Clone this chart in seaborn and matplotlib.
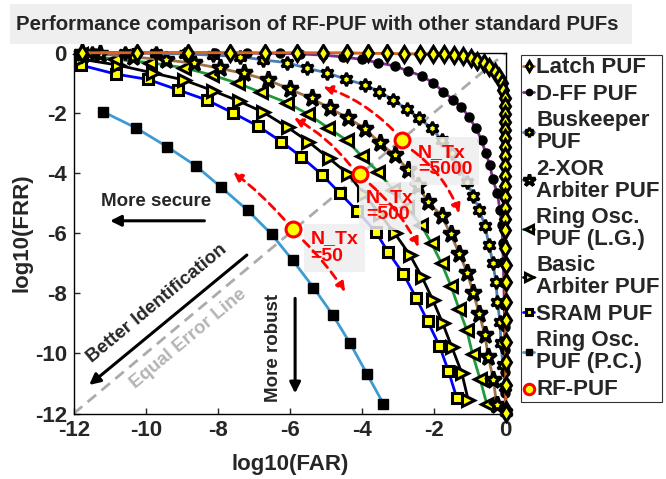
import matplotlib
matplotlib.use("Agg")
import matplotlib.pyplot as plt
import seaborn as sns
from matplotlib.patches import Rectangle

sns.set_style("white")
plt.rcParams['font.family'] = ['Liberation Sans', 'DejaVu Sans']
plt.rcParams['font.weight'] = 'bold'
plt.rcParams['axes.labelweight'] = 'bold'
plt.rcParams['axes.unicode_minus'] = False

# ---- data: log10(FAR) / log10(FRR) ----
latch_far = [-11.77, -10.24, -8.83, -7.66, -6.69, -5.81, -5.07, -4.42, -3.82, -3.29, -2.83, -2.38,
             -2.03, -1.71, -1.44, -1.19, -0.97, -0.79, -0.60, -0.46, -0.30, -0.18, -0.11, -0.07,
             -0.02, -0.01, -0.01, -0.01, -0.01, -0.01, -0.01, -0.01, -0.01, -0.01, -0.01, -0.01,
             -0.01, -0.01, -0.01, -0.01, 0.0, 0.0, 0.0, 0.0, 0.0, 0.0, 0.0, 0.0, 0.0]
latch_frr = [0.0, 0.0, 0.0, 0.0, 0.0, 0.0, 0.0, 0.0, -0.02, -0.02, -0.04, -0.04,
             -0.04, -0.04, -0.08, -0.11, -0.19, -0.27, -0.35, -0.49, -0.63, -0.80, -1.02, -1.24,
             -1.52, -1.77, -2.04, -2.31, -2.57, -2.84, -3.14, -3.44, -3.77, -4.10, -4.43, -4.80,
             -5.16, -5.53, -5.90, -6.49, -7.06, -7.63, -8.29, -8.89, -9.62, -10.29, -11.05, -11.88, -11.99]

dff_far = [-11.41, -10.57, -9.74, -8.91, -8.08, -7.19, -6.27, -5.71, -5.07, -4.52, -4.00, -3.55,
           -3.08, -2.71, -2.33, -2.01, -1.73, -1.46, -1.24, -1.01, -0.83, -0.67, -0.56, -0.44,
           -0.36, -0.23, -0.16, -0.11, -0.08, -0.07, -0.05, -0.04, -0.03, -0.03, -0.02, -0.01, 0.0]
dff_frr = [0.0, 0.0, 0.0, 0.0, 0.0, -0.01, -0.02, -0.04, -0.08, -0.14, -0.22, -0.33,
           -0.44, -0.61, -0.77, -1.01, -1.30, -1.56, -1.79, -2.15, -2.51, -2.90, -3.33, -3.73,
           -4.21, -4.68, -5.23, -5.73, -6.34, -6.95, -7.66, -8.39, -9.12, -9.89, -10.62, -11.32, -11.95]

busk_far = [-11.49, -10.58, -9.71, -8.91, -8.13, -7.38, -6.73, -6.08, -5.51, -4.96, -4.44, -3.91,
            -3.51, -3.12, -2.75, -2.40, -2.06, -1.78, -1.50, -1.29, -1.08, -0.90, -0.73, -0.58,
            -0.46, -0.36, -0.27, -0.23, -0.16, -0.13, -0.08, -0.02, 0.0]
busk_frr = [0.0, 0.0, -0.02, -0.04, -0.08, -0.13, -0.24, -0.33, -0.52, -0.67, -0.88, -1.07,
            -1.30, -1.57, -1.88, -2.18, -2.51, -2.90, -3.35, -3.84, -4.29, -4.77, -5.23, -5.75,
            -6.40, -6.98, -7.62, -8.28, -8.95, -9.67, -10.39, -11.11, -11.94]

xor_far = [-11.77, -11.27, -10.35, -9.44, -8.66, -7.94, -7.27, -6.59, -5.99, -5.39, -4.88, -4.37,
           -3.91, -3.49, -3.08, -2.71, -2.44, -2.15, -1.78, -1.53, -1.29, -1.07, -0.90, -0.73,
           -0.58, -0.48, -0.34, -0.25]
xor_frr = [0.0, -0.04, -0.14, -0.24, -0.35, -0.52, -0.69, -0.91, -1.22, -1.52, -1.85, -2.18,
           -2.52, -3.01, -3.40, -3.90, -4.44, -4.96, -5.43, -6.03, -6.68, -7.32, -7.99, -8.70,
           -9.39, -10.12, -10.89, -11.72]

rolg_far = [-11.81, -10.85, -9.88, -8.94, -8.17, -7.43, -6.80, -6.08, -5.48, -4.93, -4.42, -4.00,
            -3.54, -3.14, -2.75, -2.35, -2.06, -1.78, -1.52, -1.30, -1.08, -0.92, -0.71, -0.53]
rolg_frr = [-0.04, -0.22, -0.33, -0.50, -0.74, -1.02, -1.32, -1.66, -2.05, -2.50, -2.91, -3.44,
            -3.96, -4.55, -5.14, -5.73, -6.34, -7.01, -7.76, -8.51, -9.23, -10.03, -10.86, -11.67]

arb_far = [-11.81, -10.78, -9.81, -8.93, -8.14, -7.41, -6.73, -6.06, -5.48, -4.91, -4.37, -3.94,
           -3.49, -3.08, -2.66, -2.33, -2.03, -1.75, -1.50, -1.22, -1.04]
arb_frr = [-0.21, -0.41, -0.67, -0.91, -1.26, -1.61, -1.98, -2.48, -2.96, -3.51, -4.04, -4.70,
           -5.37, -6.01, -6.73, -7.45, -8.21, -9.00, -9.78, -10.65, -11.56]

sram_far = [-11.81, -10.83, -9.93, -9.09, -8.29, -7.58, -6.88, -6.23, -5.68, -5.11, -4.60, -4.12,
            -3.61, -3.26, -2.84, -2.49, -2.17, -1.84, -1.59, -1.36]
sram_frr = [-0.41, -0.71, -0.89, -1.24, -1.58, -2.00, -2.44, -2.96, -3.46, -4.05, -4.68, -5.27,
            -5.96, -6.64, -7.36, -8.15, -8.93, -9.75, -10.59, -11.48]

ropc_far = [-11.19, -10.27, -9.40, -8.61, -7.90, -7.17, -6.50, -5.92, -5.34, -4.81, -4.33, -3.86, -3.40]
ropc_frr = [-1.96, -2.50, -3.13, -3.76, -4.48, -5.24, -6.04, -6.90, -7.81, -8.71, -9.65, -10.67, -11.67]

rf_far = [-5.90, -4.05, -2.89]
rf_frr = [-5.87, -4.03, -2.90]
rf_labels = ["N_Tx\n=50", "N_Tx\n=500", "N_Tx\n=5000"]

eer_line = [-12, 0]

legend_order = ["Latch PUF", "D-FF PUF", "Buskeeper\nPUF", "2-XOR\nArbiter PUF",
                "Ring Osc.\nPUF (L.G.)", "Basic\nArbiter PUF", "SRAM PUF",
                "Ring Osc.\nPUF (P.C.)", "RF-PUF"]

fig = plt.figure(figsize=(6.66, 4.79), dpi=100)
ax = fig.add_axes([0.1107, 0.1367, 0.6486, 0.7532])

YEL = "#ffff00"
series = [
    # far, frr, label, line colour, marker style
    (ropc_far, ropc_frr, "Ring Osc.\nPUF (P.C.)", "#3d9bd2", dict(marker="s", ms=6.5, mfc="k", mec="k", mew=1)),
    (sram_far, sram_frr, "SRAM PUF", "#0000ff", dict(marker="s", ms=6.5, mfc=YEL, mec="k", mew=2.2)),
    (arb_far, arb_frr, "Basic\nArbiter PUF", "#000000", dict(marker=">", ms=8, mfc=YEL, mec="k", mew=2.2)),
    (rolg_far, rolg_frr, "Ring Osc.\nPUF (L.G.)", "#1f9a3a", dict(marker="<", ms=8, mfc=YEL, mec="k", mew=2.2)),
    (xor_far, xor_frr, "2-XOR\nArbiter PUF", "#a0704a", dict(marker="*", ms=12.5, mfc=YEL, mec="k", mew=2.5)),
    (busk_far, busk_frr, "Buskeeper\nPUF", "#4a7fb0", dict(marker=(6, 1, 0), ms=9.5, mfc=YEL, mec="k", mew=2.1)),
    (dff_far, dff_frr, "D-FF PUF", "#7e2f8e", dict(marker="o", ms=6.5, mfc="k", mec="k", mew=1)),
    (latch_far, latch_frr, "Latch PUF", "#d9641e", dict(marker="d", ms=8, mfc=YEL, mec="k", mew=2.2)),
]

# equal error line
sns.lineplot(x=eer_line, y=eer_line, ax=ax, color="#ababab", lw=2, linestyle=(0, (4, 2.5)),
             sort=False, estimator=None, legend=False, zorder=1)

for far, frr, lab, col, mk in series:
    sns.lineplot(x=far, y=frr, ax=ax, color=col, lw=2, label=lab, sort=False,
                 estimator=None, legend=False, clip_on=False, zorder=3, **mk)

sns.scatterplot(x=rf_far, y=rf_frr, ax=ax, s=115, color=YEL, edgecolor="red", linewidth=2.2,
                label="RF-PUF", legend=False, zorder=6, clip_on=False)

ax.set_xlim(-12, 0)
ax.set_ylim(-12, 0)
ax.set_xticks(range(-12, 1, 2))
ax.set_yticks(range(-12, 1, 2))
ax.tick_params(direction="in", length=4, width=1, labelsize=16, pad=5,
               bottom=True, left=True, top=False, right=False)
for s in ax.spines.values():
    s.set_color("k")
    s.set_linewidth(1)
ax.set_xlabel("log10(FAR)", fontsize=16, fontweight="bold")
ax.set_ylabel("log10(FRR)", fontsize=16, fontweight="bold")
ax.xaxis.set_label_coords(0.5, -0.112)
ax.yaxis.set_label_coords(-0.096, 0.5)

# red RF-PUF annotations
red_arrows = [
    ((-6.15, -5.55), (-7.57, -3.97), 0.05), ((-5.62, -6.25), (-4.46, -7.95), -0.05),
    ((-4.32, -3.74), (-5.88, -2.17), 0.1), ((-3.77, -4.37), (-2.42, -6.46), -0.1),
    ((-3.13, -2.57), (-5.07, -1.13), 0.12), ((-2.60, -3.24), (-1.29, -5.34), -0.15),
]
for tail, head, rad in red_arrows:
    ax.annotate("", xy=head, xytext=tail, zorder=5,
                arrowprops=dict(arrowstyle="-|>", color="red", lw=2, linestyle=(0, (3, 2)),
                                mutation_scale=13, shrinkA=0, shrinkB=0,
                                connectionstyle=f"arc3,rad={rad}"))

label_pos = [(-5.42, -6.48), (-3.88, -5.10), (-2.44, -3.60)]
for (tx, ty), txt in zip(label_pos, rf_labels):
    ax.text(tx, ty, txt, color="red", fontsize=14, fontweight="bold", ha="left", va="center",
            linespacing=1.0, zorder=4,
            bbox=dict(facecolor="#eeeeee", edgecolor="none", alpha=0.85, pad=5))

# black explanatory arrows
arrow_kw = dict(arrowstyle="-|>", color="k", lw=2.2, mutation_scale=16, shrinkA=0, shrinkB=0)
ax.annotate("", xy=(-10.99, -5.59), xytext=(-8.37, -5.59), arrowprops=arrow_kw, zorder=4)
ax.text(-9.71, -4.96, "More secure", fontsize=13.5, fontweight="bold", ha="center", va="center")
ax.annotate("", xy=(-11.57, -11.05), xytext=(-7.19, -6.73), arrowprops=arrow_kw, zorder=4)
ax.text(-9.69, -8.33, "Better Identification", fontsize=13.5, fontweight="bold",
        ha="center", va="center", rotation=39.6, rotation_mode="anchor")
ax.text(-8.82, -9.50, "Equal Error Line", fontsize=13.5, fontweight="bold", color="#b5b5b5",
        ha="center", va="center", rotation=39.9, rotation_mode="anchor")
ax.annotate("", xy=(-5.85, -11.33), xytext=(-5.85, -8.17), arrowprops=arrow_kw, zorder=4)
ax.text(-6.46, -9.83, "More robust", fontsize=13.5, fontweight="bold", ha="center",
        va="center", rotation=90)

# legend
handles, labels = ax.get_legend_handles_labels()
hmap = dict(zip(labels, handles))
leg = ax.legend([hmap[l] for l in legend_order], legend_order, loc="upper left",
                bbox_to_anchor=(0.782, 0.885), bbox_transform=fig.transFigure,
                fontsize=16, handlelength=0.5, handletextpad=0.1, labelspacing=0.25,
                borderpad=0.1, borderaxespad=0, markerscale=0.7, fancybox=False,
                framealpha=1, edgecolor="#333333")
leg.get_frame().set_linewidth(0.8)
for t in leg.get_texts():
    t.set_linespacing(1.05)

# title in grey band
fig.add_artist(Rectangle((10 / 666, 1 - 44 / 479), 622 / 666, 40 / 479,
                         transform=fig.transFigure, facecolor="#efefef", edgecolor="none"))
fig.text(16 / 666, 1 - 24 / 479, "Performance comparison of RF-PUF with other standard PUFs",
         fontsize=14.7, fontweight="bold", ha="left", va="center")

fig.savefig("out.png", dpi=100)
